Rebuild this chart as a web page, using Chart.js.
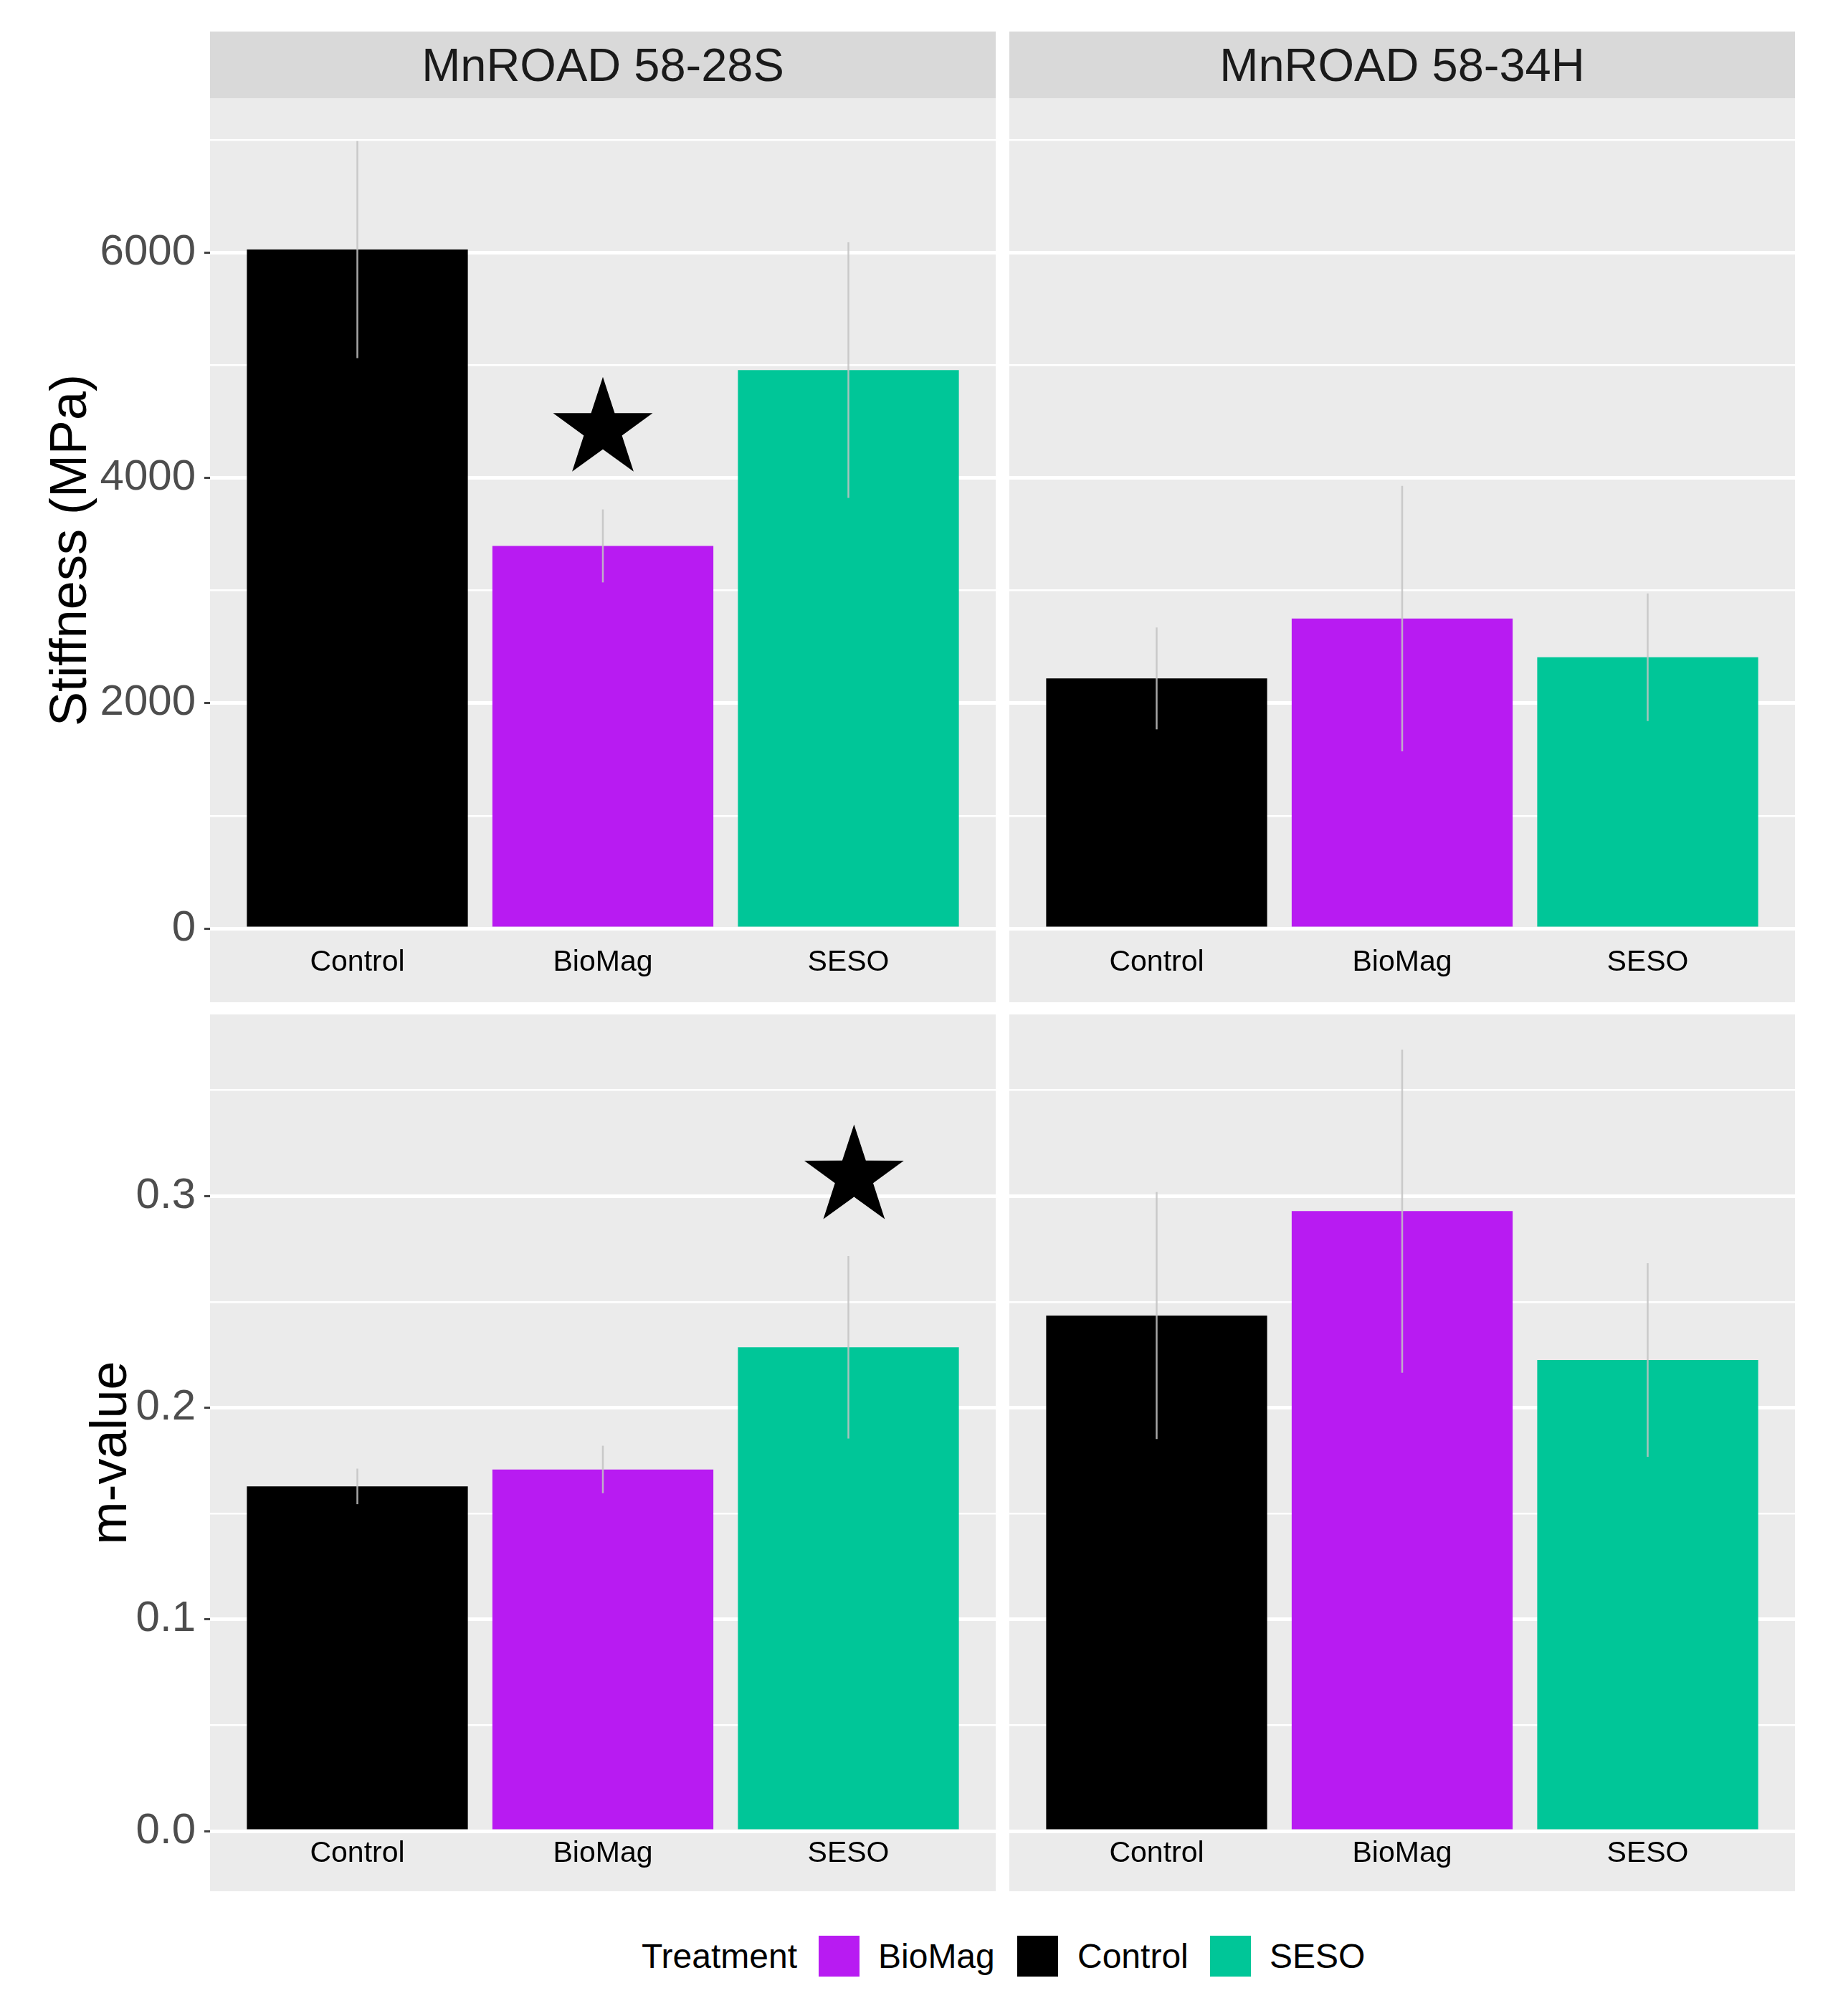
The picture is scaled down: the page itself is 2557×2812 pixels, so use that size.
<!DOCTYPE html>
<html>
<head>
<meta charset="utf-8">
<script src="https://cdn.jsdelivr.net/npm/chart.js@4.4.1/dist/chart.umd.min.js"></script>
<style>
  html, body { margin: 0; padding: 0; background: #ffffff; }
  #root { position: relative; width: 2557px; height: 2812px; background: #ffffff; overflow: hidden;
          font-family: "Liberation Sans", Arial, sans-serif; }
  canvas { position: absolute; }
  .strip { position: absolute; background: #D9D9D9; color: #1A1A1A; font-size: 65px;
           display: flex; align-items: center; justify-content: center; line-height: 1; }
  .leg-text { position: absolute; height: 57px; display: flex; align-items: center; font-size: 48px;
              color: #000000; line-height: 1; white-space: nowrap; }
  .leg-key { position: absolute; width: 57px; height: 57px; }
</style>
</head>
<body>
<div id="root">
  <div class="strip" id="strip0" style="left:293px; top:44px; width:1096px; height:93px;"></div>
  <div class="strip" id="strip1" style="left:1408px; top:44px; width:1096px; height:93px;"></div>

  <canvas id="c00" width="1389" height="1261" style="left:0px; top:137px;"></canvas>
  <canvas id="c01" width="1096" height="1261" style="left:1408px; top:137px;"></canvas>
  <canvas id="c10" width="1389" height="1223" style="left:0px; top:1415px;"></canvas>
  <canvas id="c11" width="1096" height="1223" style="left:1408px; top:1415px;"></canvas>

  <div id="legend"></div>
</div>

<script>
// ---------------- DATA ----------------
const treatments = ['Control', 'BioMag', 'SESO'];
const treatmentColors = ['#000000', '#B81BF2', '#00C698'];
const facets = ['MnROAD 58-28S', 'MnROAD 58-34H'];
const legendTitle = 'Treatment';
const legendOrder = ['BioMag', 'Control', 'SESO'];

const stiffness_5828S    = [6025, 3395, 4955];
const stiffnessErr_5828S = [963, 324, 1134];
const stiffness_5834H    = [2219, 2750, 2407];
const stiffnessErr_5834H = [452, 1178, 566];

const mValue_5828S    = [0.1628, 0.1708, 0.2285];
const mValueErr_5828S = [0.0084, 0.0112, 0.0431];
const mValue_5834H    = [0.2435, 0.2928, 0.2225];
const mValueErr_5834H = [0.0583, 0.0763, 0.0457];

const stiffnessTicks      = [0, 1000, 2000, 3000, 4000, 5000, 6000, 7000];
const stiffnessTickLabels = ['0', '', '2000', '', '4000', '', '6000', ''];
const mValueTicks         = [0, 0.05, 0.1, 0.15, 0.2, 0.25, 0.3, 0.35];
const mValueTickLabels    = ['0.0', '', '0.1', '', '0.2', '', '0.3', ''];

const stiffnessRange = [-95, 7368];
const mValueRange    = [-0.002, 0.3857];
const categoryRange  = [0.4, 3.6];

// significance stars (category position, value position)
const stars_stiffness_5828S = [{ x: 2, y: 4430 }];
const stars_mValue_5828S    = [{ x: 3.023, y: 0.309 }];
const stars_none = [];

// ---------------- HTML TEXT ----------------
document.getElementById('strip0').textContent = facets[0];
document.getElementById('strip1').textContent = facets[1];

(function buildLegend() {
  const root = document.getElementById('legend');
  const textLeft = [1225, 1503, 1771];
  const keyLeft  = [1142, 1419, 1688];
  const t = document.createElement('div');
  t.className = 'leg-text'; t.style.left = '895px'; t.style.top = '2700px';
  t.textContent = legendTitle; root.appendChild(t);
  legendOrder.forEach((name, i) => {
    const k = document.createElement('div');
    k.className = 'leg-key'; k.style.left = keyLeft[i] + 'px'; k.style.top = '2700px';
    k.style.background = treatmentColors[treatments.indexOf(name)];
    root.appendChild(k);
    const l = document.createElement('div');
    l.className = 'leg-text'; l.style.left = textLeft[i] + 'px'; l.style.top = '2700px';
    l.textContent = name; root.appendChild(l);
  });
})();

// ---------------- CHARTS ----------------
const FAMILY = '"Liberation Sans", Arial, sans-serif';
Chart.defaults.font.family = FAMILY;

// panel background: chart area plus the x-axis band below it;
// also centre the y-axis title on the whole panel (as ggplot does)
const bgPlugin = {
  id: 'panelBg',
  beforeDraw(chart) {
    const a = chart.chartArea, ctx = chart.ctx;
    ctx.save();
    ctx.fillStyle = '#EBEBEB';
    ctx.fillRect(a.left, a.top, a.right - a.left, chart.height - a.top);
    ctx.restore();
    const s = chart.scales.y;
    if (s && !s._panelTitle) {
      s._panelTitle = true;
      const orig = s.drawTitle;
      s.drawTitle = function () {
        const t = this.top, b = this.bottom;
        this.top = 0; this.bottom = this.chart.height;
        orig.call(this);
        this.top = t; this.bottom = b;
      };
    }
  }
};

function drawStar(ctx, cx, cy, R, r) {
  ctx.beginPath();
  for (let k = 0; k < 10; k++) {
    const ang = -Math.PI / 2 + k * Math.PI / 5;
    const rad = (k % 2 === 0) ? R : r;
    const px = cx + rad * Math.cos(ang), py = cy + rad * Math.sin(ang);
    if (k === 0) ctx.moveTo(px, py); else ctx.lineTo(px, py);
  }
  ctx.closePath();
  ctx.fill();
}

const errPlugin = {
  id: 'errBars',
  afterDatasetsDraw(chart) {
    const ds = chart.data.datasets[0];
    const xs = chart.scales.x, ys = chart.scales.y, ctx = chart.ctx, a = chart.chartArea;
    ctx.save();
    ctx.beginPath(); ctx.rect(a.left, a.top, a.right - a.left, a.bottom - a.top); ctx.clip();
    ctx.strokeStyle = 'rgba(195,195,195,0.85)';
    ctx.lineWidth = 2.5;
    ds.data.forEach((p, i) => {
      const e = ds.errors[i];
      const x = xs.getPixelForValue(p.x);
      ctx.beginPath();
      ctx.moveTo(x, ys.getPixelForValue(p.y + e));
      ctx.lineTo(x, ys.getPixelForValue(p.y - e));
      ctx.stroke();
    });
    ctx.fillStyle = '#000000';
    (ds.stars || []).forEach(s => {
      drawStar(ctx, xs.getPixelForValue(s.x), ys.getPixelForValue(s.y), 73, 28);
    });
    ctx.restore();
  }
};

function makeChart(id, values, errs, ticks, tickLabels, range, title, showY, stars, titlePad, xAxisHeight, xPad) {
  return new Chart(document.getElementById(id), {
    type: 'bar',
    data: {
      datasets: [{
        data: values.map((v, i) => ({ x: i + 1, y: v })),
        backgroundColor: treatmentColors,
        borderWidth: 0,
        barPercentage: 0.9,
        categoryPercentage: 1.0,
        errors: errs,
        stars: stars
      }]
    },
    options: {
      responsive: false,
      maintainAspectRatio: false,
      devicePixelRatio: 1,
      animation: false,
      events: [],
      layout: { padding: 0, autoPadding: false },
      plugins: { legend: { display: false }, tooltip: { enabled: false }, title: { display: false } },
      scales: {
        x: {
          type: 'linear',
          min: categoryRange[0], max: categoryRange[1],
          offset: false,
          afterBuildTicks: s => { s.ticks = treatments.map((t, i) => ({ value: i + 1 })); },
          ticks: {
            callback: v => treatments[Math.round(v) - 1] || '',
            font: { size: 41, family: FAMILY },
            color: '#000000',
            padding: xPad,
            maxRotation: 0, minRotation: 0,
            autoSkip: false
          },
          grid: { display: false, drawTicks: false },
          border: { display: false },
          afterFit: s => { s.height = xAxisHeight; s.paddingLeft = 0; s.paddingRight = 0; }
        },
        y: {
          type: 'linear',
          min: range[0], max: range[1],
          afterBuildTicks: s => { s.ticks = ticks.map(v => ({ value: v })); },
          ticks: {
            display: showY,
            callback: (v, i) => tickLabels[i],
            font: { size: 60, family: FAMILY },
            color: '#4D4D4D',
            padding: 12,
            autoSkip: false
          },
          grid: {
            color: '#FFFFFF',
            lineWidth: c => (c.index % 2 === 0 ? 5 : 2.5),
            drawTicks: showY,
            tickLength: 8,
            tickWidth: 3,
            tickColor: c => (c.index % 2 === 0 ? '#444444' : 'rgba(0,0,0,0)')
          },
          border: { display: false },
          title: {
            display: showY,
            text: title,
            font: { size: 72, family: FAMILY },
            color: '#000000',
            padding: { top: titlePad, bottom: 0 }
          },
          afterFit: s => { s.width = showY ? 293 : 0; s.paddingTop = 0; s.paddingBottom = 0; }
        }
      }
    },
    plugins: [bgPlugin, errPlugin]
  });
}

makeChart('c00', stiffness_5828S, stiffnessErr_5828S, stiffnessTicks, stiffnessTickLabels, stiffnessRange,
          'Stiffness (MPa)', true, stars_stiffness_5828S, 57, 88, 8);
makeChart('c01', stiffness_5834H, stiffnessErr_5834H, stiffnessTicks, stiffnessTickLabels, stiffnessRange,
          '', false, stars_none, 0, 88, 8);
makeChart('c10', mValue_5828S, mValueErr_5828S, mValueTicks, mValueTickLabels, mValueRange,
          'm-value', true, stars_mValue_5828S, 113, 78, 1);
makeChart('c11', mValue_5834H, mValueErr_5834H, mValueTicks, mValueTickLabels, mValueRange,
          '', false, stars_none, 0, 78, 1);
</script>
</body>
</html>
